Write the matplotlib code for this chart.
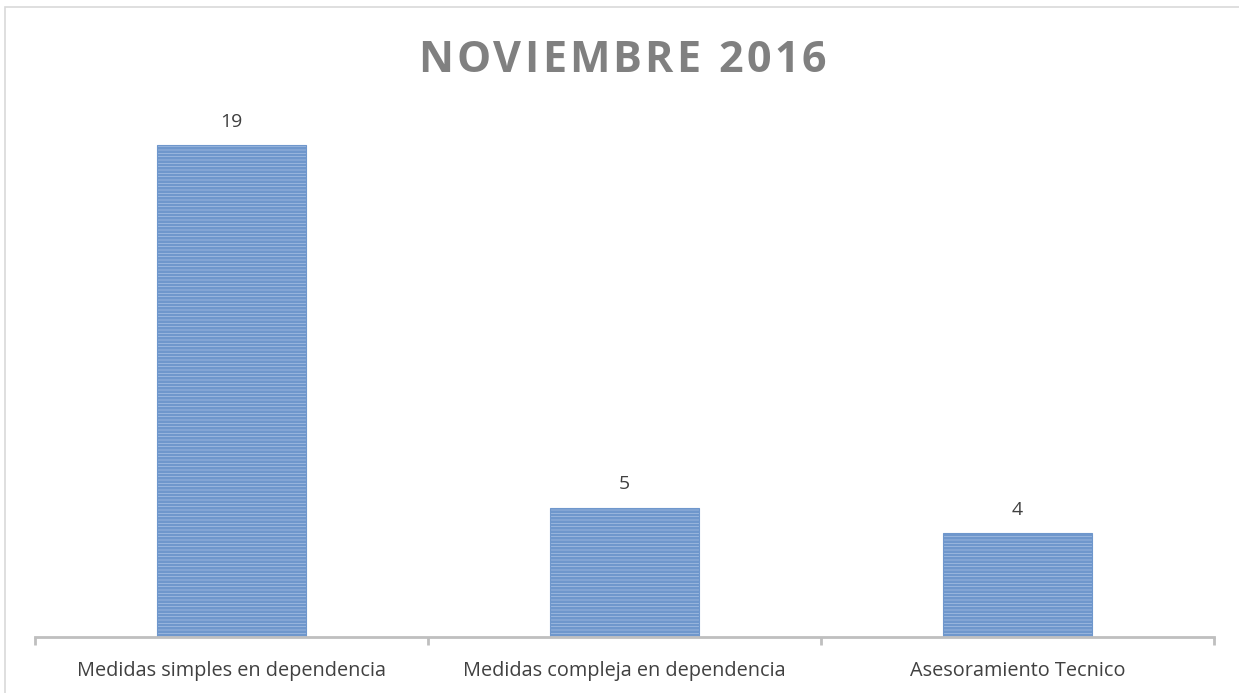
import matplotlib
matplotlib.use('Agg')
import matplotlib.pyplot as plt
from matplotlib.patches import Rectangle

categories = ['Medidas simples en dependencia', 'Medidas compleja en dependencia', 'Asesoramiento Tecnico']
values = [19, 5, 4]
title = 'NOVIEMBRE 2016'

plt.rcParams['font.family'] = ['Open Sans', 'DejaVu Sans']
plt.rcParams['hatch.color'] = '#4A7CBE'
plt.rcParams['hatch.linewidth'] = 2.0

fig = plt.figure(figsize=(12.39, 6.93), dpi=100)
ax = fig.add_axes([35 / 1239, 1 - 637 / 693, (1214 - 35) / 1239, 518 / 693])

# marco del grafico
fig.patches.append(Rectangle((5 / 1239, -0.1), 1.2, 1 - 7 / 693 + 0.1, transform=fig.transFigure,
                             fill=False, edgecolor='#D9D9D9', linewidth=1.2))

x = range(len(categories))
bars = ax.bar(x, values, width=0.377, color='#B9CDEA', edgecolor='#6F97CC', linewidth=0.8, hatch='-----')
for b, v in zip(bars, values):
    ax.text(b.get_x() + b.get_width() / 2, v + 0.55, str(v), ha='center', va='bottom',
            fontsize=14, color='#404040')

ax.set_xlim(-0.5, 2.5)
ax.set_ylim(0, 20)
ax.set_yticks([])
ax.set_xticks([-0.5, 0.5, 1.5, 2.5], minor=False)
ax.set_xticklabels([])
ax.set_xticks(list(x), minor=True)
ax.set_xticklabels(categories, minor=True, fontsize=14.3, color='#404040')
ax.tick_params(axis='x', which='major', length=6, width=2, color='#BFBFBF')
ax.tick_params(axis='x', which='minor', length=0, pad=17)
for s in ['top', 'right', 'left']:
    ax.spines[s].set_visible(False)
ax.spines['bottom'].set_color('#BFBFBF')
ax.spines['bottom'].set_linewidth(2)

# titulo con espaciado entre letras
r = fig.canvas.get_renderer()
kw = dict(fontsize=31, fontweight='bold', color='#808080', va='center', ha='left')
widths = []
for ch in title:
    t = fig.text(0, 0, ch if ch != ' ' else 'I', **kw)
    w = t.get_window_extent(r).width
    if ch == ' ':
        w *= 0.9
    widths.append(w)
    t.remove()
total = 826 - 418
gap = (total - sum(widths)) / (len(title) - 1)
xp = 418
for ch, w in zip(title, widths):
    if ch != ' ':
        fig.text(xp / 1239, 1 - 61 / 693, ch, **kw)
    xp += w + gap

fig.savefig('out.png', dpi=100)
